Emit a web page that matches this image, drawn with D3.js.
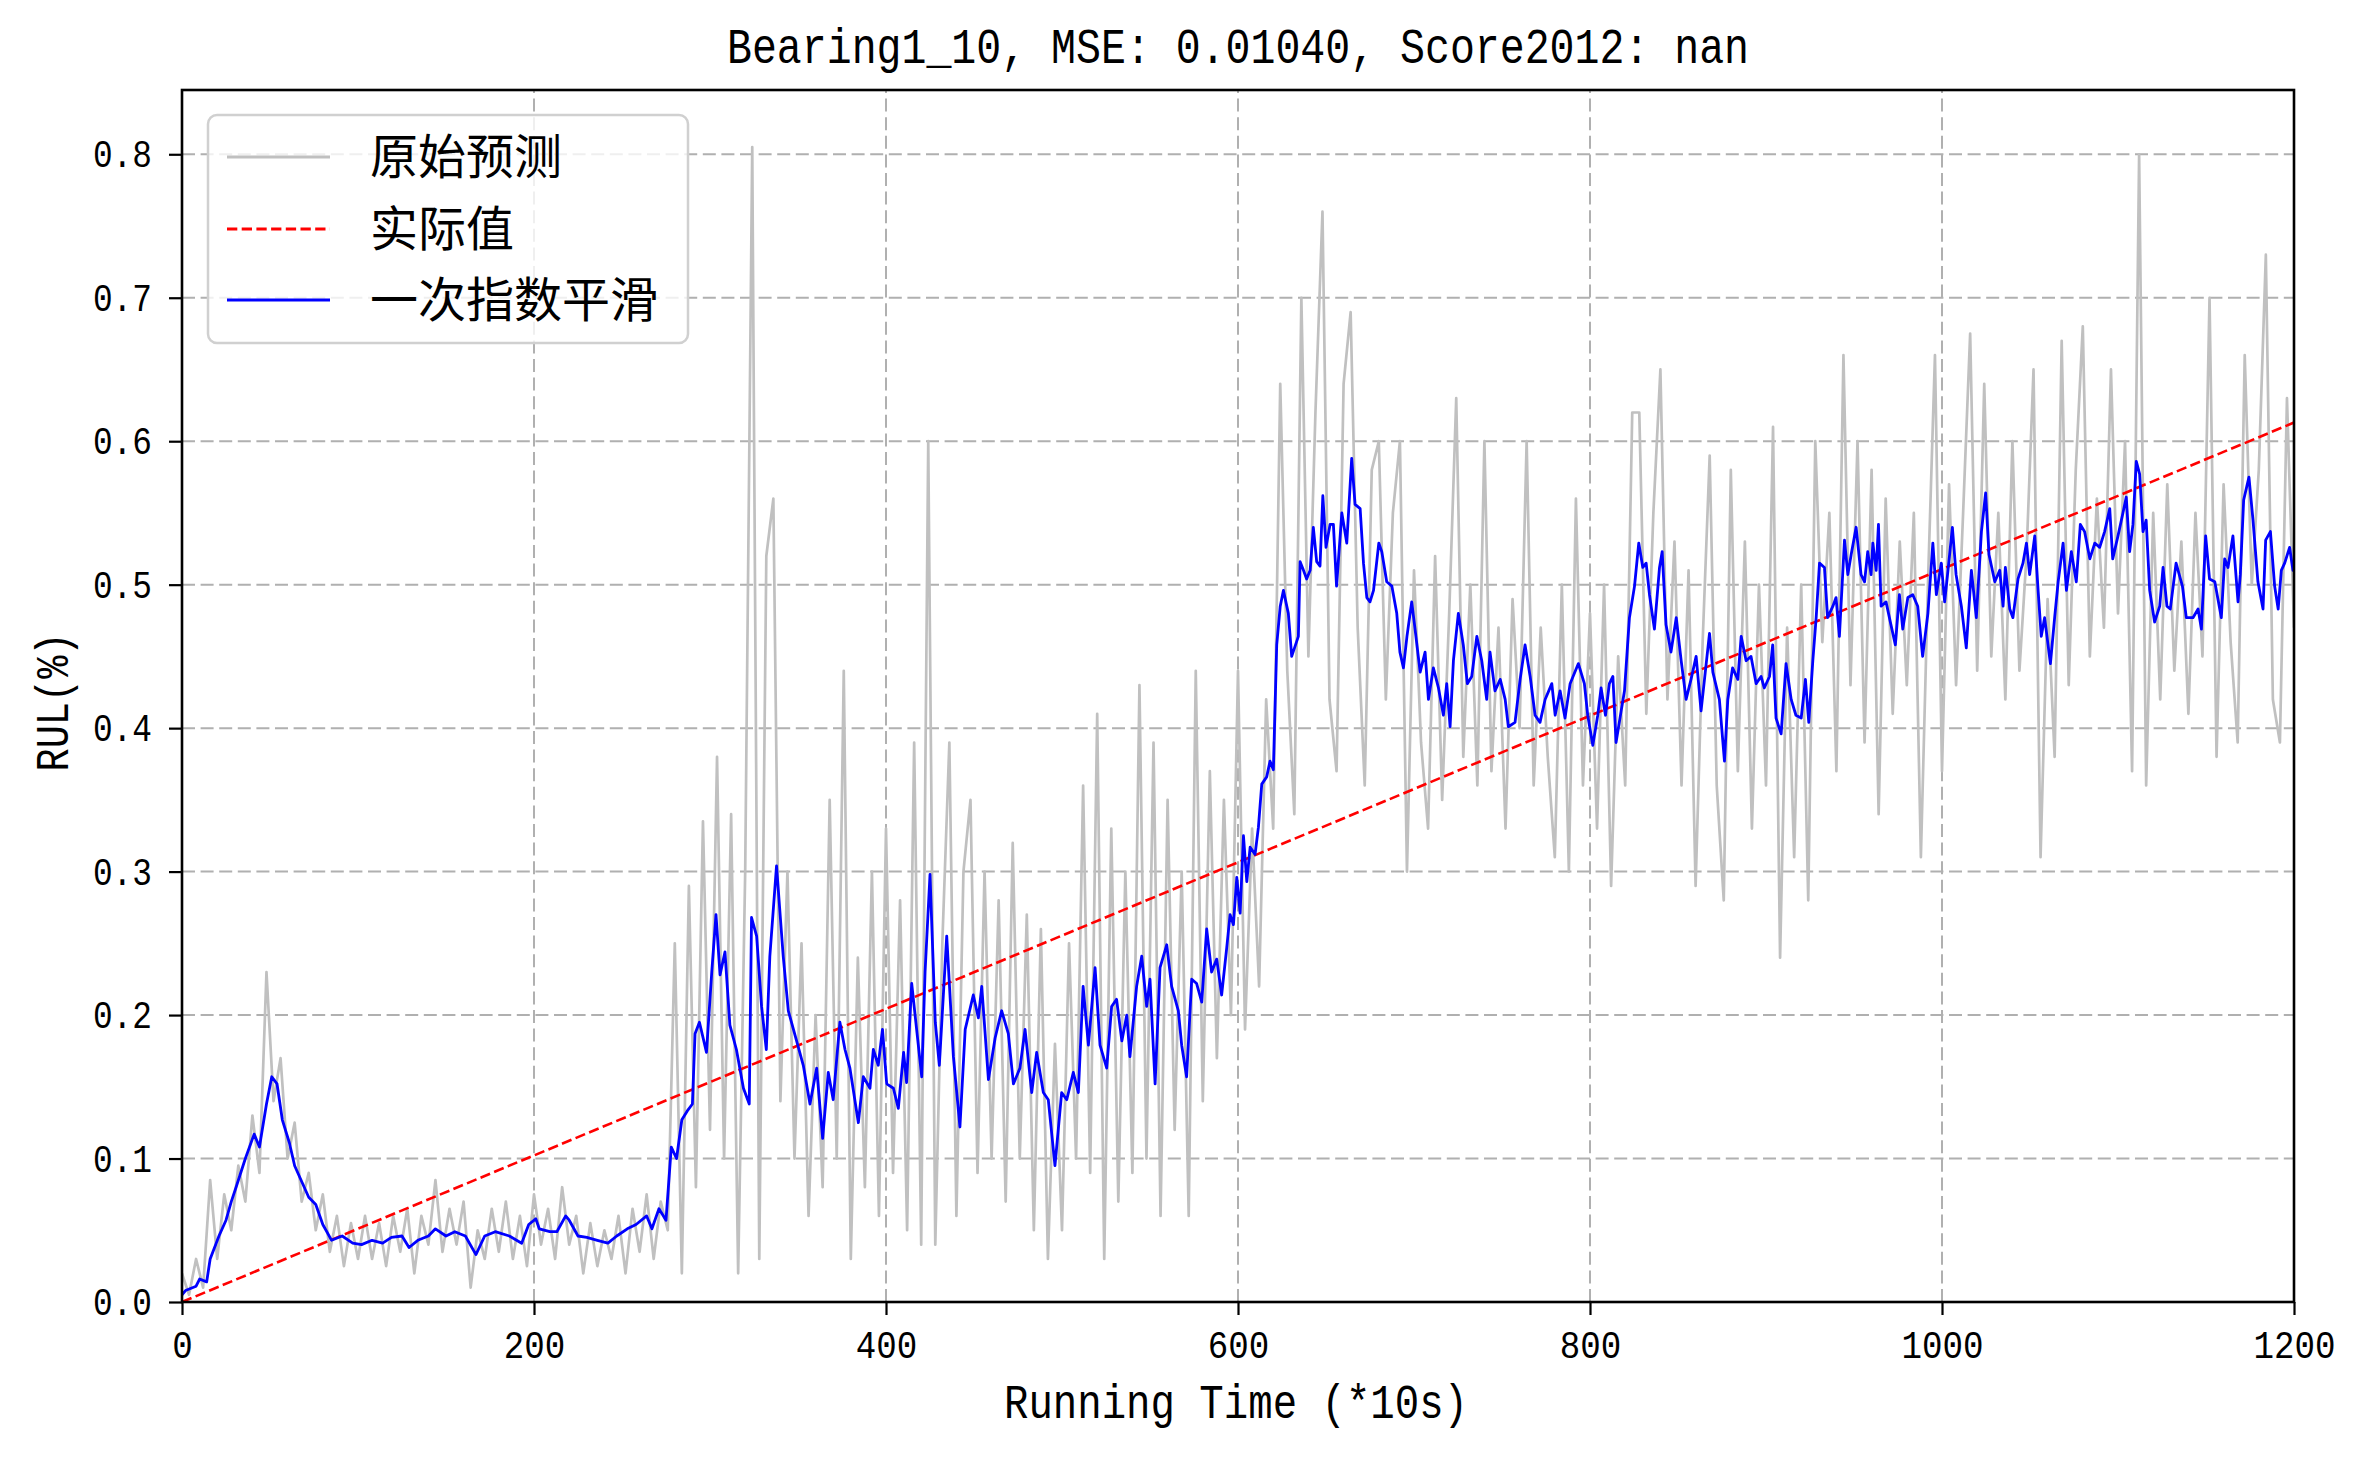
<!DOCTYPE html>
<html>
<head>
<meta charset="utf-8">
<script src="https://cdn.jsdelivr.net/npm/d3@7"></script>
<style>
  body { margin: 0; background: #fff; }
  svg { display: block; }
</style>
</head>
<body>
<script>
// chart values
const titleText = "Bearing1_10, MSE: 0.01040, Score2012: nan";
const xLabel = "Running Time (*10s)";
const yLabel = "RUL(%)";
const legendNames = ["原始预测", "实际值", "一次指数平滑"];
const xTicks = [0, 200, 400, 600, 800, 1000, 1200];
const yTicks = [0, 0.1, 0.2, 0.3, 0.4, 0.5, 0.6, 0.7, 0.8];

// raw prediction, one reading every 4 time steps (0 .. 1200)
const rawStep = 4;
const rawValues = [
  0.02,0.005,0.03,0.01,0.085,0.03,0.075,0.05,0.095,0.07,0.13,0.09,0.23,0.14,0.17,0.1,0.125,0.07,0.09,0.05,0.075,0.035,0.06,0.025,0.055,0.03,
  0.06,0.03,0.055,0.025,0.06,0.035,0.065,0.02,0.06,0.04,0.085,0.035,0.065,0.04,0.07,0.01,0.05,0.03,0.065,0.035,0.07,0.03,0.06,0.025,0.075,
  0.04,0.065,0.03,0.08,0.04,0.06,0.02,0.055,0.025,0.05,0.03,0.06,0.02,0.065,0.035,0.075,0.03,0.07,0.05,0.25,0.02,0.29,0.08,0.335,0.12,
  0.38,0.1,0.34,0.02,0.3,0.805,0.03,0.52,0.56,0.14,0.3,0.1,0.25,0.06,0.2,0.08,0.35,0.1,0.44,0.03,0.24,0.08,0.3,0.06,0.33,
  0.09,0.28,0.05,0.39,0.04,0.6,0.04,0.25,0.39,0.06,0.3,0.35,0.09,0.3,0.1,0.28,0.07,0.32,0.1,0.27,0.05,0.26,0.03,0.18,0.05,
  0.25,0.1,0.36,0.09,0.41,0.03,0.33,0.07,0.3,0.09,0.43,0.1,0.39,0.06,0.35,0.12,0.3,0.06,0.44,0.14,0.37,0.17,0.35,0.2,0.44,
  0.19,0.33,0.22,0.42,0.33,0.64,0.44,0.34,0.7,0.45,0.62,0.76,0.42,0.37,0.64,0.69,0.47,0.36,0.58,0.6,0.42,0.55,0.6,0.3,0.51,
  0.39,0.33,0.52,0.35,0.48,0.63,0.38,0.5,0.36,0.6,0.37,0.47,0.33,0.49,0.4,0.6,0.36,0.47,0.38,0.31,0.5,0.3,0.56,0.36,0.48,
  0.33,0.5,0.29,0.45,0.36,0.62,0.62,0.41,0.55,0.65,0.42,0.53,0.36,0.51,0.29,0.46,0.59,0.36,0.28,0.58,0.37,0.53,0.33,0.5,0.36,
  0.61,0.24,0.47,0.31,0.5,0.28,0.6,0.46,0.55,0.37,0.66,0.43,0.6,0.39,0.58,0.34,0.56,0.41,0.53,0.43,0.55,0.31,0.5,0.66,0.37,
  0.57,0.43,0.55,0.675,0.44,0.64,0.45,0.55,0.42,0.6,0.44,0.52,0.65,0.31,0.49,0.38,0.67,0.43,0.58,0.68,0.45,0.56,0.47,0.65,0.48,
  0.6,0.37,0.8,0.36,0.55,0.42,0.57,0.44,0.53,0.41,0.55,0.45,0.7,0.38,0.57,0.46,0.39,0.66,0.5,0.58,0.73,0.42,0.39,0.63,0.47
];

// actual RUL (straight dashed line)
const actualPoints = [[0, 0], [1200, 0.613]];

// exponential smoothing curve, [time, value]
const smoothPoints = [
  [0,0.005],[2,0.008],[8,0.011],[10,0.016],[14,0.014],[16,0.03],[21,0.046],[25,0.057],[28,0.07],[31,0.081],
  [36,0.1],[41,0.117],[44,0.108],[48,0.138],[51,0.157],[54,0.152],[57,0.127],[61,0.111],[64,0.095],[68,0.084],
  [72,0.073],[76,0.068],[80,0.054],[85,0.043],[91,0.046],[97,0.041],[102,0.04],[108,0.043],[114,0.041],[119,0.045],
  [125,0.046],[129,0.038],[134,0.043],[140,0.046],[144,0.051],[150,0.046],[155,0.049],[161,0.046],[167,0.033],[172,0.046],
  [178,0.049],[186,0.046],[193,0.041],[197,0.054],[201,0.058],[203,0.051],[209,0.049],[213,0.049],[218,0.06],[220,0.057],
  [225,0.046],[230,0.045],[236,0.043],[242,0.041],[247,0.046],[253,0.051],[258,0.054],[264,0.06],[267,0.051],[271,0.065],
  [275,0.057],[278,0.108],[281,0.1],[284,0.127],[287,0.133],[290,0.138],[291.5,0.187],[294,0.195],[298,0.174],[301,0.23],
  [303.4,0.27],[305.7,0.228],[308.5,0.244],[311.3,0.193],[315,0.176],[319,0.149],[322.3,0.138],[323.6,0.268],[326.5,0.255],[329.3,0.206],
  [332,0.176],[334,0.241],[337.8,0.304],[341.6,0.241],[344.5,0.203],[349.2,0.182],[353,0.165],[356.8,0.138],[360.6,0.163],[364,0.114],
  [367.2,0.16],[370,0.141],[373.8,0.195],[376.7,0.176],[379.5,0.163],[384.3,0.125],[387.1,0.157],[390.9,0.149],[392.8,0.176],[395.6,0.165],
  [398,0.19],[400.4,0.152],[404.2,0.149],[407,0.135],[410,0.174],[411.7,0.153],[414.6,0.222],[417.4,0.19],[420.3,0.157],[422.2,0.23],
  [425,0.298],[428,0.195],[430.3,0.165],[434.5,0.255],[438.3,0.171],[442,0.122],[445,0.19],[449.6,0.214],[452.5,0.198],[454.4,0.22],
  [458.2,0.155],[462,0.184],[465.7,0.203],[469.5,0.187],[472.4,0.152],[476.1,0.163],[479,0.19],[482.8,0.146],[485.6,0.174],[489.4,0.146],
  [492.2,0.141],[496,0.095],[499.8,0.146],[502.7,0.141],[506.4,0.16],[509.3,0.146],[512,0.22],[515,0.179],[518.8,0.233],[521.6,0.179],
  [525.4,0.163],[528.2,0.206],[531,0.211],[534,0.182],[536.8,0.2],[538.6,0.171],[542.4,0.22],[545.3,0.241],[548.1,0.206],[550,0.225],
  [552.9,0.152],[555.7,0.233],[559.5,0.249],[562.3,0.22],[566.1,0.203],[568,0.179],[570.8,0.157],[573.7,0.225],[576.5,0.222],[579.4,0.209],
  [582.2,0.26],[585,0.23],[587.9,0.239],[590.7,0.214],[593.6,0.247],[595.5,0.27],[597.4,0.263],[599.3,0.296],[601.2,0.271],[603.1,0.325],
  [605,0.293],[606.9,0.317],[609.7,0.312],[611.6,0.331],[613.5,0.361],[616.3,0.366],[618.2,0.377],[620.1,0.371],[622,0.458],[624,0.485],
  [625.8,0.496],[628.6,0.48],[630.5,0.45],[634.3,0.464],[635.3,0.516],[637.2,0.51],[639,0.504],[641,0.51],[642.8,0.54],[644.7,0.516],
  [646.6,0.513],[648.2,0.562],[650,0.526],[652.3,0.542],[654.2,0.542],[656,0.499],[659,0.55],[661.8,0.529],[664.6,0.588],[666.5,0.556],
  [669.4,0.553],[671.3,0.515],[673.2,0.491],[675,0.488],[677,0.496],[680,0.529],[681.7,0.523],[684.5,0.502],[687.4,0.499],[690.2,0.48],
  [692,0.453],[694,0.442],[696,0.464],[698.7,0.488],[700.6,0.469],[703.5,0.439],[706.3,0.453],[708.2,0.42],[711,0.442],[713.9,0.428],
  [716.7,0.409],[718.6,0.431],[720.5,0.401],[722.4,0.447],[725.2,0.48],[728,0.458],[730.3,0.431],[732.8,0.436],[735.7,0.464],[738.5,0.447],
  [741.3,0.42],[743.2,0.453],[746,0.426],[749,0.434],[751.8,0.42],[753.6,0.401],[757.4,0.404],[760.3,0.434],[763.1,0.458],[766,0.436],
  [768.8,0.409],[771.6,0.404],[774.5,0.42],[778.3,0.431],[780.2,0.409],[783,0.426],[785.8,0.407],[788.7,0.431],[793.4,0.445],[796.8,0.431],
  [798.7,0.409],[801.6,0.388],[804.4,0.409],[806.3,0.428],[808.8,0.409],[811,0.431],[813,0.436],[814.8,0.39],[817.7,0.412],[819.6,0.426],
  [822.4,0.477],[825.3,0.499],[827.7,0.529],[830,0.512],[831.9,0.515],[833.8,0.493],[836.6,0.469],[839.5,0.512],[841,0.523],[843.2,0.472],
  [846,0.453],[849,0.477],[851.8,0.447],[854.6,0.42],[857.4,0.434],[860.3,0.45],[863.1,0.412],[867.9,0.466],[869.8,0.439],[873.5,0.42],
  [876.4,0.377],[878.3,0.42],[881,0.442],[884,0.434],[885.9,0.464],[888.7,0.447],[891.5,0.45],[894.4,0.431],[897.2,0.436],[899,0.428],
  [902,0.436],[903.8,0.458],[905.7,0.407],[908.6,0.396],[911.4,0.445],[914.3,0.42],[917,0.409],[920,0.407],[922.4,0.434],[924.3,0.404],
  [926.6,0.447],[928.5,0.477],[930.4,0.515],[933.2,0.512],[935,0.477],[938,0.485],[939.8,0.491],[941.7,0.464],[944.6,0.531],[946.5,0.507],
  [948.4,0.521],[951.2,0.54],[954,0.507],[956,0.502],[957.8,0.523],[959.7,0.507],[960.7,0.529],[962.6,0.51],[963.9,0.542],[965.4,0.485],
  [968.2,0.488],[971,0.472],[973.5,0.458],[975.8,0.493],[977.7,0.469],[980.6,0.491],[983.4,0.493],[986.2,0.485],[989,0.45],[992,0.48],
  [994.8,0.529],[996.8,0.493],[999.6,0.515],[1001.5,0.488],[1003.4,0.51],[1005.9,0.54],[1008,0.507],[1011,0.485],[1013.8,0.456],[1016.7,0.51],
  [1019.5,0.477],[1022.4,0.537],[1024.8,0.564],[1026.7,0.521],[1030,0.502],[1032.8,0.51],[1034.7,0.485],[1036,0.512],[1038.5,0.483],[1040.3,0.477],
  [1043.2,0.504],[1046,0.515],[1048,0.529],[1049.8,0.507],[1052.7,0.534],[1054.6,0.496],[1056.4,0.464],[1058.3,0.477],[1061.6,0.445],[1064,0.477],
  [1066,0.502],[1068.8,0.529],[1070.7,0.496],[1073.5,0.523],[1076.3,0.502],[1078.6,0.542],[1081,0.537],[1084,0.518],[1086.8,0.529],[1089.6,0.526],
  [1092.4,0.537],[1095.3,0.553],[1097,0.518],[1100,0.534],[1102.8,0.55],[1104.7,0.561],[1106.6,0.523],[1108.5,0.542],[1110.4,0.586],[1112.3,0.577],
  [1114.2,0.537],[1116,0.545],[1118,0.496],[1120.8,0.474],[1123.7,0.485],[1125.6,0.512],[1127.8,0.485],[1129.7,0.483],[1133,0.515],[1136.6,0.499],
  [1138.8,0.477],[1142.6,0.477],[1145.5,0.483],[1147.4,0.469],[1149.8,0.534],[1152,0.504],[1155,0.502],[1158.7,0.477],[1160.6,0.518],[1162.5,0.512],
  [1165.3,0.534],[1168.2,0.488],[1169.5,0.507],[1171.4,0.559],[1174.4,0.575],[1176.7,0.545],[1179.5,0.502],[1182.4,0.483],[1183.9,0.531],[1186.6,0.537],
  [1189,0.499],[1191,0.483],[1192.8,0.51],[1194.7,0.515],[1197.5,0.526],[1199.4,0.51],[1200,0.51]
];

const width = 2365, height = 1458;
const margin = { top: 90, right: 71, bottom: 156, left: 182 };
const monoFont = "'Liberation Mono', 'DejaVu Sans Mono', monospace";
const cjkFont = "'Noto Sans CJK SC', 'Noto Sans', sans-serif";

const svg = d3.select("body").append("svg")
    .attr("width", width)
    .attr("height", height)
    .style("background", "#fff");

const x = d3.scaleLinear().domain([0, 1200]).range([margin.left, width - margin.right]);
const y = d3.scaleLinear().domain([0, 0.8448]).range([height - margin.bottom, margin.top]);

svg.append("defs").append("clipPath").attr("id", "plot-clip")
  .append("rect")
    .attr("x", margin.left).attr("y", margin.top)
    .attr("width", x(1200) - margin.left)
    .attr("height", y(0) - margin.top);

// grid
const grid = svg.append("g")
    .attr("stroke", "#b0b0b0")
    .attr("stroke-width", 2)
    .attr("stroke-dasharray", "13,5.6");
grid.selectAll(".gx").data(xTicks).enter().append("line")
    .attr("x1", d => x(d)).attr("x2", d => x(d))
    .attr("y1", y.range()[0]).attr("y2", y.range()[1]);
grid.selectAll(".gy").data(yTicks).enter().append("line")
    .attr("y1", d => y(d)).attr("y2", d => y(d))
    .attr("x1", x.range()[0]).attr("x2", x.range()[1]);

// lines
const plot = svg.append("g").attr("clip-path", "url(#plot-clip)");
const line = d3.line().x(d => x(d[0])).y(d => y(d[1]));

const rawPoints = rawValues.map((v, i) => [i * rawStep, v]);

plot.append("path").datum(rawPoints)
    .attr("d", line)
    .attr("fill", "none")
    .attr("stroke", "#c0c0c0")
    .attr("stroke-width", 2.7)
    .attr("stroke-linejoin", "round");

plot.append("path").datum(actualPoints)
    .attr("d", line)
    .attr("fill", "none")
    .attr("stroke", "#ff0000")
    .attr("stroke-width", 2.6)
    .attr("stroke-dasharray", "10.3,4.4");

plot.append("path").datum(smoothPoints)
    .attr("d", line)
    .attr("fill", "none")
    .attr("stroke", "#0000ff")
    .attr("stroke-width", 2.8)
    .attr("stroke-linejoin", "round");

// axes
const tickText = function (sel, charW) {
  sel.selectAll("text")
      .attr("font-family", monoFont)
      .attr("font-size", 38)
      .attr("fill", "#000")
      .attr("textLength", function () { return this.textContent.length * charW; })
      .attr("lengthAdjust", "spacingAndGlyphs");
};

const xAxis = svg.append("g")
    .attr("transform", "translate(0," + y(0) + ")")
    .call(d3.axisBottom(x).tickValues(xTicks).tickSize(13).tickFormat(d3.format("d")));
xAxis.select(".domain").remove();
xAxis.selectAll(".tick line").attr("stroke", "#000").attr("stroke-width", 2.2);
tickText(xAxis, 20.5);
xAxis.selectAll("text").attr("y", 56).attr("dy", 0);

const yAxis = svg.append("g")
    .attr("transform", "translate(" + x(0) + ",0)")
    .call(d3.axisLeft(y).tickValues(yTicks).tickSize(13).tickFormat(d3.format(".1f")));
yAxis.select(".domain").remove();
yAxis.selectAll(".tick line").attr("stroke", "#000").attr("stroke-width", 2.2);
tickText(yAxis, 19.7);
yAxis.selectAll("text").attr("x", -30).attr("dy", "0.33em");

// frame
svg.append("rect")
    .attr("x", x(0)).attr("y", margin.top)
    .attr("width", x(1200) - x(0))
    .attr("height", y(0) - margin.top)
    .attr("fill", "none")
    .attr("stroke", "#000")
    .attr("stroke-width", 2.6);

// title and labels
svg.append("text")
    .attr("x", (x(0) + x(1200)) / 2).attr("y", 63)
    .attr("text-anchor", "middle")
    .attr("font-family", monoFont).attr("font-size", 50)
    .attr("textLength", 1022).attr("lengthAdjust", "spacingAndGlyphs")
    .text(titleText);

svg.append("text")
    .attr("x", 1236).attr("y", 1418)
    .attr("text-anchor", "middle")
    .attr("font-family", monoFont).attr("font-size", 48)
    .attr("textLength", 464).attr("lengthAdjust", "spacingAndGlyphs")
    .text(xLabel);

svg.append("text")
    .attr("transform", "translate(68,702) rotate(-90)")
    .attr("text-anchor", "middle")
    .attr("font-family", monoFont).attr("font-size", 46)
    .attr("textLength", 139).attr("lengthAdjust", "spacingAndGlyphs")
    .text(yLabel);

// legend
const legend = svg.append("g");
legend.append("rect")
    .attr("x", 208).attr("y", 115)
    .attr("width", 480).attr("height", 228)
    .attr("rx", 9)
    .attr("fill", "#fff").attr("fill-opacity", 0.8)
    .attr("stroke", "#d0d0d0").attr("stroke-width", 2.5);

const legendStyles = [
  { color: "#c0c0c0", dash: null },
  { color: "#ff0000", dash: "10.3,4.4" },
  { color: "#0000ff", dash: null }
];
const rowY = [157, 229, 300];

legendNames.forEach(function (name, i) {
  legend.append("line")
      .attr("x1", 227).attr("x2", 330)
      .attr("y1", rowY[i]).attr("y2", rowY[i])
      .attr("stroke", legendStyles[i].color)
      .attr("stroke-width", 2.8)
      .attr("stroke-dasharray", legendStyles[i].dash);
  legend.append("text")
      .attr("x", 370).attr("y", rowY[i] + 17)
      .attr("font-family", cjkFont).attr("font-size", 48)
      .attr("fill", "#000")
      .text(name);
});
</script>
</body>
</html>
